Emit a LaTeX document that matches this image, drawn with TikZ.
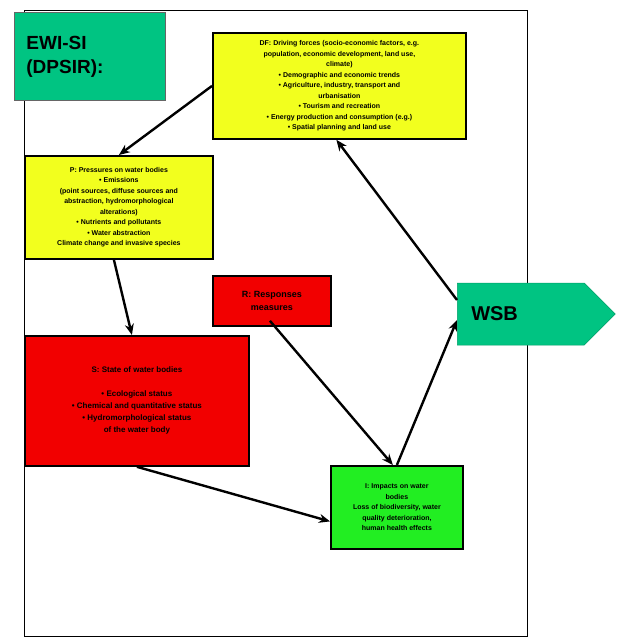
\documentclass[tikz,border=0pt]{standalone}
\usepackage{fontspec}
\setmainfont{Liberation Sans}
\usetikzlibrary{arrows.meta,shapes.symbols}
\definecolor{teal1}{HTML}{00C482}
\definecolor{yel}{HTML}{F2FF1E}
\definecolor{red1}{HTML}{F20000}
\definecolor{grn}{HTML}{22EE22}
\begin{document}
\begin{tikzpicture}[x=1pt,y=-1pt,
  box/.style={draw=black,line width=1.8pt,inner sep=1pt,align=center,font=\fontsize{7}{10.5}\selectfont\bfseries},
  conn/.style={-{Stealth[length=11pt,width=9pt]},line width=2.4pt,black}]
\useasboundingbox (0,0) rectangle (619,642);
\draw[line width=0.8pt] (24,10) rectangle (527,636);
\node[draw=black!60,fill=teal1,line width=0.8pt,minimum width=151pt,minimum height=88pt,anchor=north west,align=left,inner xsep=12pt,text width=127pt,font=\fontsize{19}{24}\selectfont\bfseries] (title) at (14,12) {EWI-SI\\(DPSIR):};
\node[box,fill=yel,minimum width=253pt,minimum height=106pt,anchor=north west] (D) at (212,32)
 {DF: Driving forces (socio-economic factors, e.g.\\ population, economic development, land use,\\ climate)\\ \textbullet\ Demographic and economic trends\\ \textbullet\ Agriculture, industry, transport and\\ urbanisation\\ \textbullet\ Tourism and recreation\\ \textbullet\ Energy production and consumption (e.g.)\\ \textbullet\ Spatial planning and land use};
\node[box,fill=yel,minimum width=188pt,minimum height=103pt,anchor=north west] (P) at (24,155)
 {P: Pressures on water bodies\\ \textbullet\ Emissions\\ (point sources, diffuse sources and\\ abstraction, hydromorphological\\ alterations)\\ \textbullet\ Nutrients and pollutants\\ \textbullet\ Water abstraction\\ Climate change and invasive species};
\node[box,fill=red1,minimum width=118pt,minimum height=50pt,anchor=north west,font=\fontsize{9}{13}\selectfont\bfseries] (R) at (212,275)
 {R: Responses\\ measures};
\node[box,fill=red1,minimum width=224pt,minimum height=130pt,anchor=north west,font=\fontsize{8}{12}\selectfont\bfseries] (S) at (24,335)
 {S: State of water bodies\\ \\ \textbullet\ Ecological status\\ \textbullet\ Chemical and quantitative status\\ \textbullet\ Hydromorphological status\\ of the water body};
\node[box,fill=grn,minimum width=132pt,minimum height=83pt,anchor=north west] (I) at (330,465)
 {I: Impacts on water\\ bodies\\ Loss of biodiversity, water\\ quality deterioration,\\ human health effects};
\node[signal,signal to=east,signal pointer angle=90,fill=teal1,draw=teal1!80!black,line width=0.5pt,minimum height=62pt,anchor=west,font=\fontsize{20}{24}\selectfont\bfseries,inner xsep=14pt,text width=99pt] (W) at (457,314) {WSB};
\draw[conn] (D.west) -- (P.north);
\draw[conn] ([xshift=-5pt]P.south) -- ([xshift=-5pt]S.north);
\draw[conn] (S.south) -- ([yshift=-14pt]I.west);
\draw[conn] ([xshift=-2pt,yshift=6pt]R.south) -- ([xshift=-4pt]I.north);
\draw[conn] (I.north) -- ([yshift=-6pt]W.west);
\draw[conn] ([yshift=14pt]W.west) -- ([xshift=-3pt]D.south);
\end{tikzpicture}
\end{document}
